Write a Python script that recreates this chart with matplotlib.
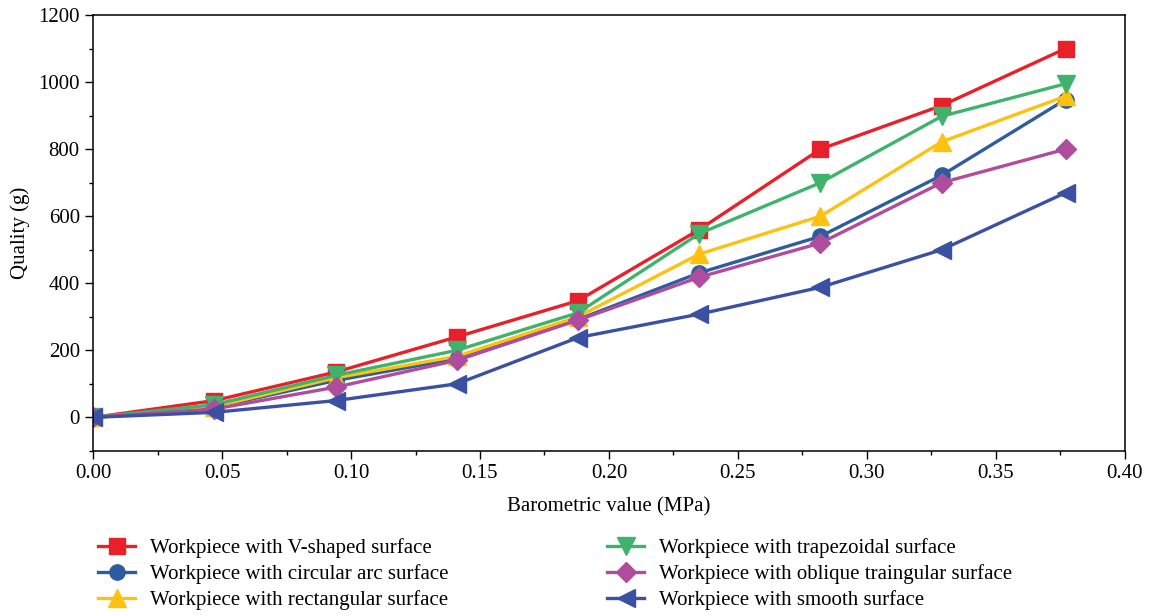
import matplotlib
matplotlib.use("Agg")
import matplotlib.pyplot as plt
from matplotlib.ticker import MultipleLocator

# data
pressure = [0.0, 0.047, 0.094, 0.141, 0.188, 0.235, 0.282, 0.329, 0.377]
v_shaped = [0, 50, 135, 240, 348, 560, 800, 930, 1100]
circular = [0, 30, 110, 175, 292, 431, 540, 722, 948]
rectangular = [0, 32, 118, 182, 300, 487, 600, 822, 958]
trapezoidal = [0, 38, 125, 200, 312, 548, 700, 898, 995]
oblique = [0, 25, 90, 170, 290, 418, 520, 700, 800]
smooth = [0, 15, 50, 100, 238, 308, 388, 500, 670]

labels = ["Workpiece with V-shaped surface",
          "Workpiece with circular arc surface",
          "Workpiece with rectangular surface",
          "Workpiece with trapezoidal surface",
          "Workpiece with oblique traingular surface",
          "Workpiece with smooth surface"]

plt.rcParams['font.family'] = ['Liberation Serif', 'DejaVu Serif']

fig = plt.figure(figsize=(11.49, 6.16), dpi=100)
ax = fig.add_axes([0.081, 0.268, 0.898, 0.7076])

series = [
    (v_shaped, "#e8202a", "s", 11),
    (circular, "#2d5d9f", "o", 11),
    (rectangular, "#fdc20f", "^", 13),
    (trapezoidal, "#3fb36b", "v", 13),
    (oblique, "#b04c9e", "D", 10),
    (smooth, "#3a51a3", "<", 13),
]
for (vals, col, mk, ms), lab in zip(series, labels):
    ax.plot(pressure, vals, color=col, marker=mk, markersize=ms, linewidth=2.4,
            label=lab)

ax.set_xlim(0, 0.40)
ax.set_ylim(-100, 1200)
ax.xaxis.set_major_locator(MultipleLocator(0.05))
ax.xaxis.set_minor_locator(MultipleLocator(0.025))
ax.yaxis.set_major_locator(MultipleLocator(200))
ax.yaxis.set_minor_locator(MultipleLocator(100))
ax.xaxis.set_major_formatter(matplotlib.ticker.FormatStrFormatter('%.2f'))
ax.tick_params(which='major', direction='out', length=6, width=1, labelsize=15)
ax.tick_params(which='minor', direction='out', length=3, width=1)
for s in ax.spines.values():
    s.set_linewidth(1.1)

ax.set_xlabel("Barometric value (MPa)", fontsize=15, labelpad=10)
ax.set_ylabel("Quality (g)", fontsize=15, labelpad=6)

fig.legend(loc='upper left', bbox_to_anchor=(0.078, 0.14), ncol=2,
           frameon=False, fontsize=15, handlelength=1.8, handletextpad=0.7,
           columnspacing=7.6, labelspacing=0.3, borderaxespad=0)

fig.savefig("out.png", dpi=100)
